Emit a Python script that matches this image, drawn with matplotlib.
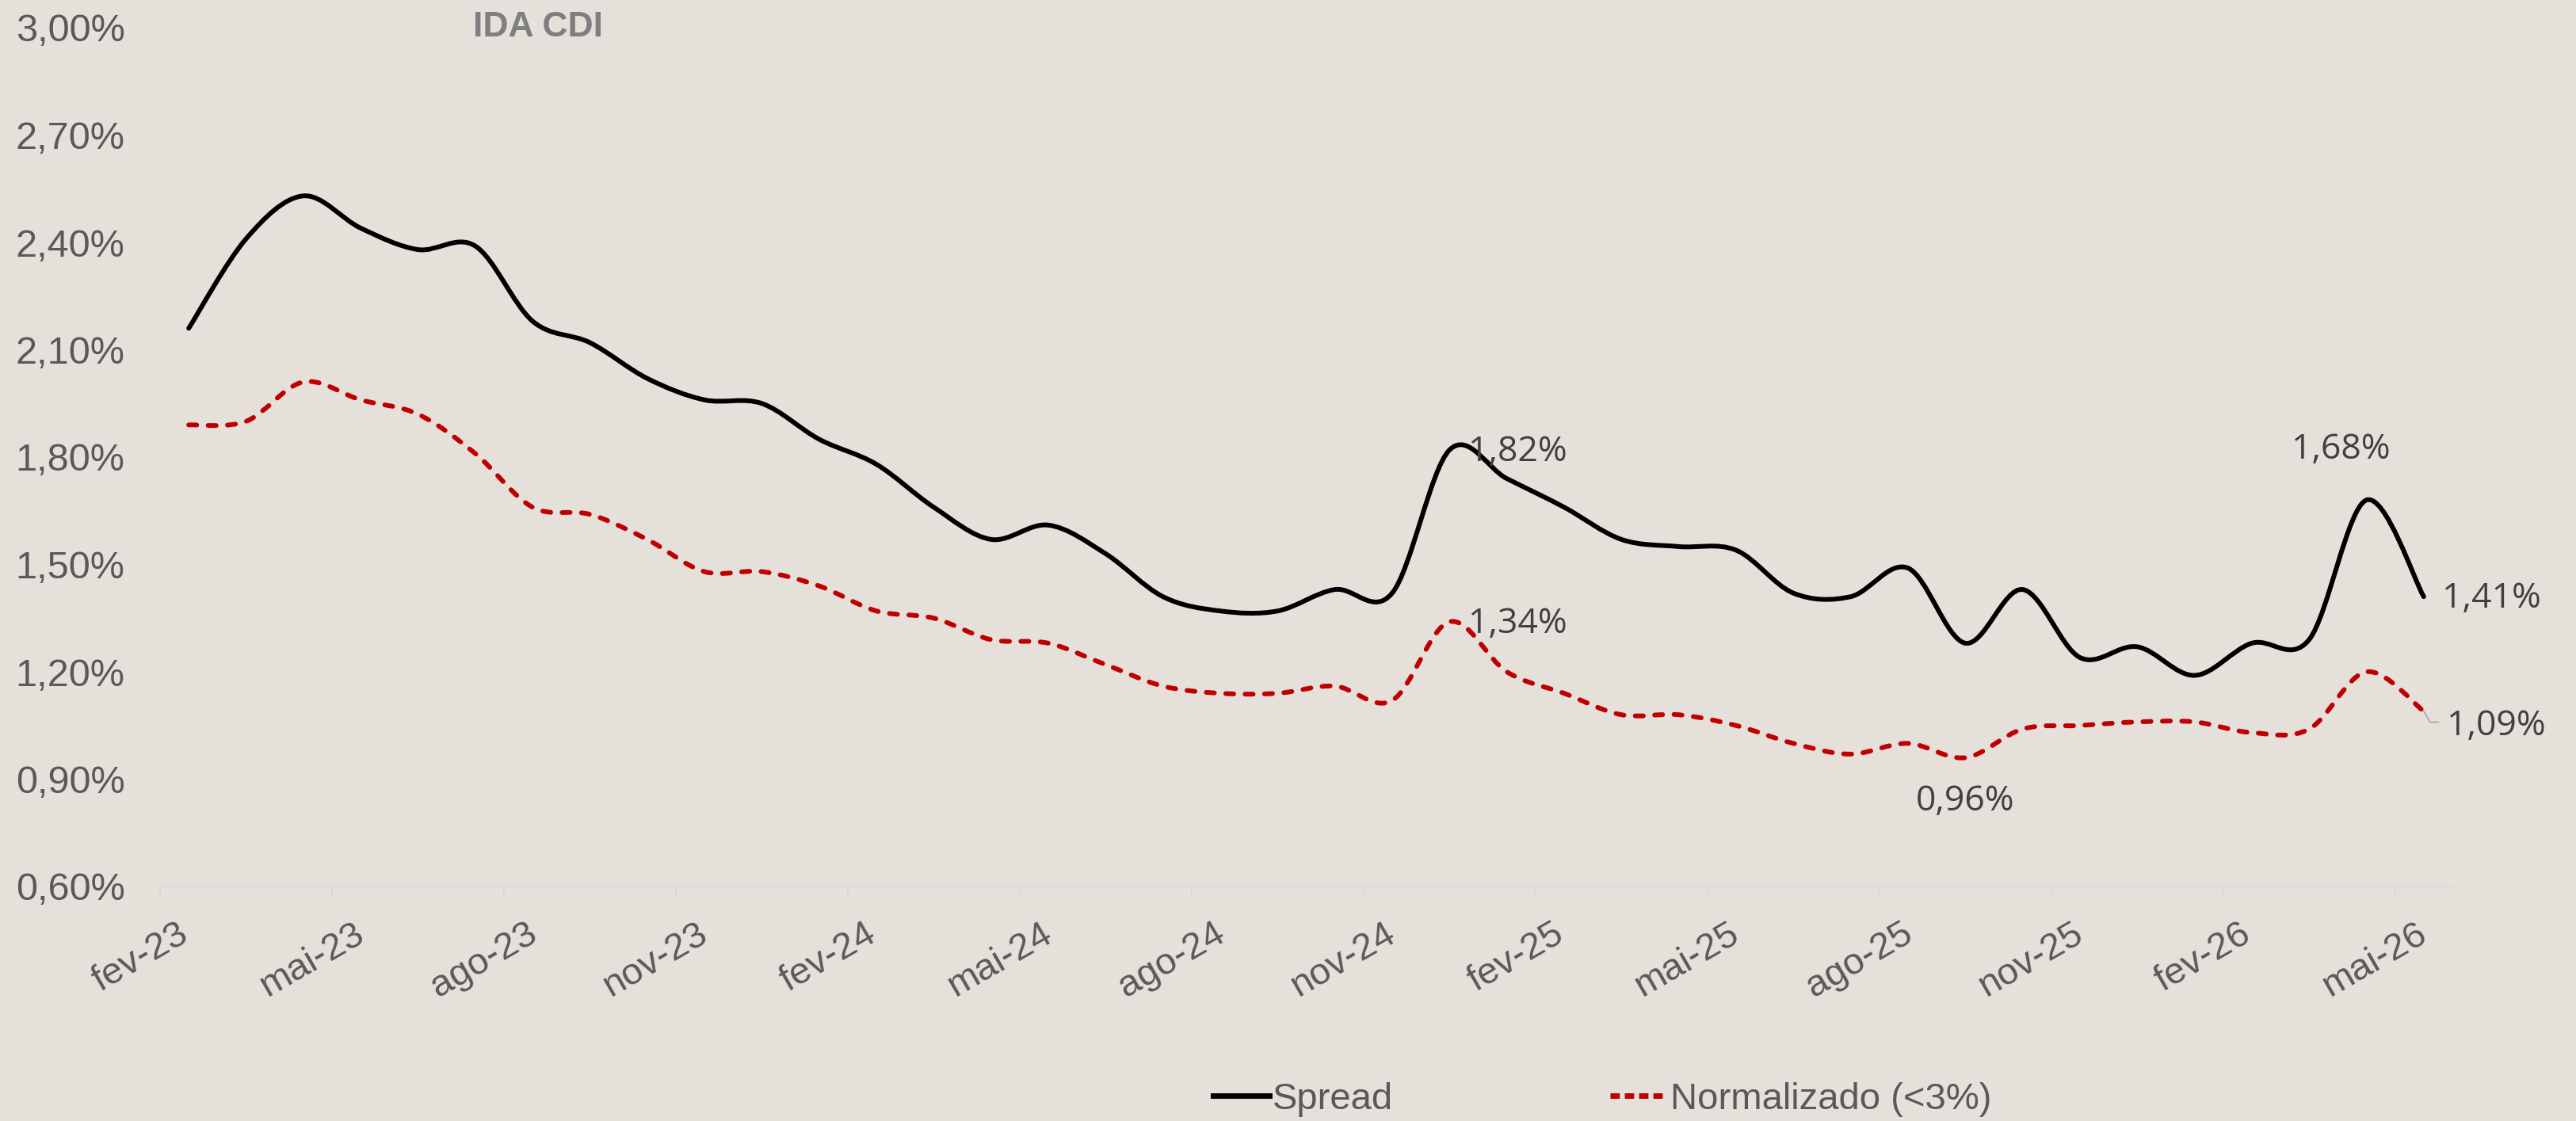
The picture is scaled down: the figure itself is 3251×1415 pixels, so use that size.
import numpy as np
import matplotlib
matplotlib.use('Agg')
import matplotlib.pyplot as plt
from matplotlib.path import Path
from matplotlib.patches import PathPatch
from matplotlib.lines import Line2D
import matplotlib.transforms as mtransforms

# Dados (mensal, fev-23 a mai-26)
meses = ['fev-23', 'mar-23', 'abr-23', 'mai-23', 'jun-23', 'jul-23', 'ago-23', 'set-23',
         'out-23', 'nov-23', 'dez-23', 'jan-24', 'fev-24', 'mar-24', 'abr-24', 'mai-24',
         'jun-24', 'jul-24', 'ago-24', 'set-24', 'out-24', 'nov-24', 'dez-24', 'jan-25',
         'fev-25', 'mar-25', 'abr-25', 'mai-25', 'jun-25', 'jul-25', 'ago-25', 'set-25',
         'out-25', 'nov-25', 'dez-25', 'jan-26', 'fev-26', 'mar-26', 'abr-26', 'mai-26']
spread = [2.16, 2.41, 2.53, 2.44, 2.38, 2.39, 2.18, 2.12, 2.02, 1.96,
          1.95, 1.85, 1.78, 1.66, 1.57, 1.61, 1.53, 1.41, 1.37, 1.37,
          1.43, 1.42, 1.82, 1.74, 1.66, 1.57, 1.55, 1.54, 1.42, 1.41,
          1.49, 1.28, 1.43, 1.24, 1.27, 1.19, 1.28, 1.29, 1.68, 1.41]
normalizado = [1.89, 1.90, 2.01, 1.96, 1.92, 1.81, 1.66, 1.64, 1.57, 1.48,
               1.48, 1.44, 1.37, 1.35, 1.29, 1.28, 1.22, 1.16, 1.14, 1.14,
               1.16, 1.12, 1.34, 1.20, 1.14, 1.08, 1.08, 1.05, 1.00, 0.97,
               1.00, 0.96, 1.04, 1.05, 1.06, 1.06, 1.03, 1.04, 1.20, 1.09]
y_ticks = [0.60, 0.90, 1.20, 1.50, 1.80, 2.10, 2.40, 2.70, 3.00]

# rotulos de dados: (serie, indice, posicao)
rotulos = [('spread', 22, 'right'), ('spread', 38, 'above'), ('spread', 39, 'right'),
           ('norm', 22, 'right'), ('norm', 31, 'below'), ('norm', 39, 'right_low')]

bg = '#E6E0DA'
cinza = '#595959'
vermelho = '#C00000'


def curva_suave(xs, ys):
    # bezier no estilo "linha suavizada" do Excel
    n = len(xs)
    verts = [(xs[0], ys[0])]
    codes = [Path.MOVETO]
    for i in range(n - 1):
        i0 = max(i - 1, 0)
        i3 = min(i + 2, n - 1)
        c1 = (xs[i] + (xs[i + 1] - xs[i0]) / 6, ys[i] + (ys[i + 1] - ys[i0]) / 6)
        c2 = (xs[i + 1] - (xs[i3] - xs[i]) / 6, ys[i + 1] - (ys[i3] - ys[i]) / 6)
        verts += [c1, c2, (xs[i + 1], ys[i + 1])]
        codes += [Path.CURVE4] * 3
    return Path(verts, codes)


fig = plt.figure(figsize=(32.51, 14.15), dpi=100, facecolor=bg)
ax = fig.add_axes([202 / 3251, 1 - 1119 / 1415, (3095 - 202) / 3251, (1119 - 35) / 1415])
ax.set_facecolor(bg)

x = np.arange(len(meses)) + 0.5
ax.set_xlim(0, len(meses))
ax.set_ylim(0.6, 3.0)

lw = 4.3
ax.add_patch(PathPatch(curva_suave(x, spread), fill=False, edgecolor='black', lw=lw,
                       capstyle='round', joinstyle='round'))
ax.add_patch(PathPatch(curva_suave(x, normalizado), fill=False, edgecolor=vermelho, lw=lw,
                       linestyle=(0, (1.7, 2.4)), capstyle='round', joinstyle='round'))

# eixos
for s in ['left', 'right', 'top']:
    ax.spines[s].set_visible(False)
ax.spines['bottom'].set_color('#D9D9D9')
ax.spines['bottom'].set_linewidth(1.5)

ax.set_yticks(y_ticks)
ax.set_yticklabels([f'{v:.2f}%'.replace('.', ',') for v in y_ticks])
ax.tick_params(axis='y', length=0, pad=32, labelsize=35, labelcolor=cinza)
for lab in ax.get_yticklabels():
    lab.set_family('Liberation Sans')

xt = np.arange(0, len(meses), 3)
ax.set_xticks(xt)
ax.set_xticklabels([meses[i] for i in xt], rotation=30, ha='center')
ax.tick_params(axis='x', length=10, width=1.4, color='#D9D9D9', pad=17,
               labelsize=34, labelcolor=cinza)
desloc = mtransforms.ScaledTranslation(-25 / 100, 0, fig.dpi_scale_trans)
for lab in ax.get_xticklabels():
    lab.set_family('Liberation Sans')
    lab.set_transform(lab.get_transform() + desloc)

# rotulos de dados
fonte_rot = dict(fontsize=32, color='#404040', family='Open Sans')
for serie, i, pos in rotulos:
    v = spread[i] if serie == 'spread' else normalizado[i]
    txt = f'{v:.2f}%'.replace('.', ',')
    if pos == 'right':
        ax.annotate(txt, (x[i], v), xytext=(17, -2), textcoords='offset points',
                    ha='left', va='center', **fonte_rot)
    elif pos == 'above':
        ax.annotate(txt, (x[i], v), xytext=(-23, 46), textcoords='offset points',
                    ha='center', va='center', **fonte_rot)
    elif pos == 'below':
        ax.annotate(txt, (x[i], v), xytext=(0, -40), textcoords='offset points',
                    ha='center', va='center', **fonte_rot)
    else:
        ax.annotate(txt, (x[i], v), xytext=(21, -14), textcoords='offset points',
                    ha='left', va='center', **fonte_rot)
        ax.annotate('', (x[i], v), xytext=(13.5, -10), textcoords='offset points',
                    arrowprops=dict(arrowstyle='-', color='#A6A6A6', lw=1.2,
                                    shrinkA=0, shrinkB=0,
                                    connectionstyle='angle,angleA=0,angleB=-60,rad=0'))

fig.text(679 / 3251, 1 - 34 / 1415, 'IDA CDI', ha='center', va='center', fontsize=32,
         fontweight='bold', color='#7F7F7F', family='Liberation Sans')

handles = [Line2D([], [], color='black', lw=5),
           Line2D([], [], color=vermelho, lw=5, linestyle=(0, (1.7, 0.9)))]
leg = fig.legend(handles, ['Spread', 'Normalizado (<3%)'], loc='center',
                 bbox_to_anchor=(2022 / 3251, 1 - 1388 / 1415), ncol=2, frameon=False,
                 handlelength=1.5, handletextpad=0.1, columnspacing=5.8,
                 prop={'family': 'Liberation Sans', 'size': 34})
for t in leg.get_texts():
    t.set_color(cinza)

fig.savefig('out.png', dpi=100, facecolor=bg)
